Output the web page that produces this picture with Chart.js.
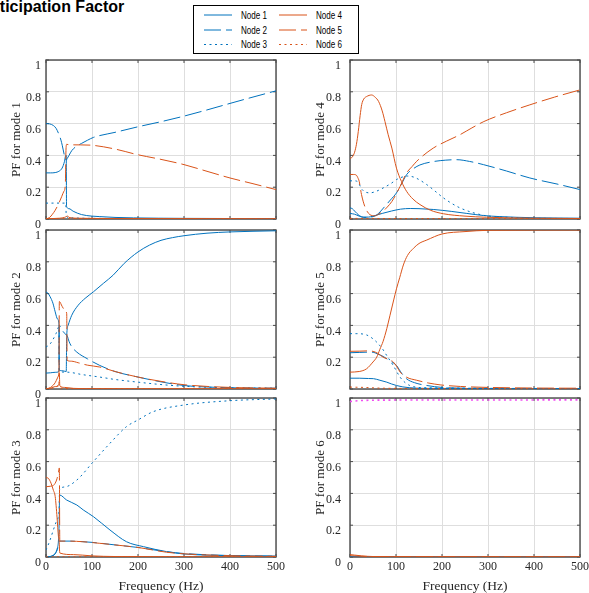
<!DOCTYPE html>
<html>
<head>
<meta charset="utf-8">
<script src="https://cdn.jsdelivr.net/npm/chart.js@4/dist/chart.umd.min.js"></script>
<style>
  html, body { margin: 0; padding: 0; background: #fff; }
  body { width: 589px; height: 593px; position: relative; overflow: hidden; }
  canvas { position: absolute; }
  #title { position: absolute; left: -26px; top: -1px; z-index: 5; white-space: nowrap;
           font: bold 16px "Liberation Sans", Arial, sans-serif; line-height: 16px; color: #000; }
  #legend { position: absolute; left: 193px; top: 5px; z-index: 5; }
  #legend text { font: 10px "Liberation Sans", Arial, sans-serif; fill: #000; }
</style>
</head>
<body>
<div id="title">Participation Factor</div>
<svg id="legend" width="166" height="49"></svg>
<script>
// ---- series names, axis ticks ----
const NODE_NAMES = ['Node 1', 'Node 2', 'Node 3', 'Node 4', 'Node 5', 'Node 6'];
const FREQ_TICKS = [0, 100, 200, 300, 400, 500];
const PF_TICKS = [0, 0.2, 0.4, 0.6, 0.8, 1];
const MODE_LABELS = ['PF for mode 1', 'PF for mode 2', 'PF for mode 3',
                     'PF for mode 4', 'PF for mode 5', 'PF for mode 6'];

// ---- participation factors: [frequency (Hz), PF] ----
// mode 1
const mode1Node1 = [[0,0.29],[10,0.29],[20,0.292],[28,0.30],[35,0.32],[40,0.36],[43,0.40],[44,0.40],[44.6,0.08],[50,0.065],[59,0.049],[77,0.028],[100,0.018],[117,0.015],[150,0.01],[190,0.007],[300,0.004],[400,0.003],[500,0.003]];
const mode1Node2 = [[0,0.60],[8,0.598],[16,0.588],[22,0.57],[27,0.54],[31,0.51],[34,0.48],[37,0.44],[40,0.40],[42,0.38],[44,0.37],[46,0.38],[50,0.40],[56,0.43],[65,0.455],[77,0.475],[90,0.495],[103,0.513],[150,0.545],[200,0.58],[250,0.612],[300,0.647],[350,0.686],[400,0.727],[450,0.767],[500,0.806]];
const mode1Node3 = [[0,0.10],[20,0.10],[41,0.10],[43,0.10],[44,0.02],[50,0.008],[100,0.004],[500,0.002]];
const mode1Node4 = [[0,0.002],[30,0.005],[40,0.01],[44,0.015],[46,0.02],[50,0.01],[70,0.005],[150,0.003],[500,0.002]];
const mode1Node5 = [[0,0.0],[8,0.01],[14,0.03],[20,0.055],[28,0.10],[34,0.14],[39,0.175],[42,0.216],[43.5,0.44],[45,0.47],[50,0.467],[75,0.466],[103,0.463],[150,0.44],[200,0.404],[250,0.375],[300,0.342],[350,0.30],[400,0.258],[450,0.222],[500,0.185]];
const mode1Node6 = [[0,0.001],[100,0.001],[500,0.001]];
// mode 2
const mode2Node1 = [[0,0.61],[5,0.60],[9,0.58],[15,0.54],[20,0.485],[25,0.44],[28,0.41],[29,0.12],[35,0.115],[44,0.11],[45,0.33],[48,0.40],[56,0.464],[70,0.527],[85,0.57],[103,0.611],[125,0.665],[146,0.716],[170,0.79],[200,0.862],[225,0.905],[250,0.935],[275,0.952],[300,0.964],[350,0.98],[400,0.988],[450,0.992],[500,0.995]];
const mode2Node2 = [[0,0.10],[10,0.102],[20,0.105],[28,0.11],[29,0.40],[35,0.37],[44,0.34],[46,0.335],[50,0.30],[55,0.27],[67,0.232],[90,0.19],[117,0.148],[150,0.11],[200,0.075],[250,0.045],[300,0.022],[400,0.008],[500,0.005]];
const mode2Node3 = [[0,0.264],[8,0.28],[15,0.31],[22,0.35],[28,0.39],[29,0.11],[45,0.106],[80,0.09],[117,0.075],[150,0.06],[200,0.043],[250,0.028],[300,0.017],[400,0.008],[500,0.005]];
const mode2Node4 = [[0,0.0],[10,0.01],[16,0.025],[20,0.04],[25,0.07],[28,0.09],[29,0.10],[30,0.02],[40,0.01],[60,0.004],[100,0.002],[500,0.001]];
const mode2Node5 = [[0,0.0],[10,0.005],[20,0.015],[28,0.03],[29,0.55],[35,0.52],[40,0.50],[45,0.474],[46,0.18],[55,0.175],[70,0.165],[90,0.15],[117,0.138],[150,0.11],[200,0.075],[250,0.048],[300,0.027],[400,0.01],[500,0.005]];
const mode2Node6 = [[0,0.0],[20,0.01],[28,0.02],[30,0.005],[100,0.002],[500,0.002]];
// mode 3
const mode3Node1 = [[0,0.0],[10,0.003],[15,0.01],[20,0.023],[25,0.06],[27,0.1],[28.5,0.2],[29.5,0.39],[45,0.358],[67,0.327],[81,0.296],[103,0.254],[139,0.17],[175,0.096],[212,0.065],[262,0.034],[300,0.019],[400,0.009],[500,0.006]];
const mode3Node2 = [[0,0.0],[10,0.004],[20,0.02],[26,0.06],[29,0.1],[30,0.1],[50,0.1],[100,0.092],[150,0.076],[200,0.06],[250,0.038],[300,0.022],[400,0.009],[500,0.005]];
const mode3Node3 = [[0,0.044],[8,0.1],[16,0.17],[22,0.22],[27,0.26],[28.5,0.30],[29.5,0.42],[40,0.44],[67,0.484],[103,0.6],[139,0.715],[175,0.82],[200,0.862],[233,0.914],[300,0.956],[400,0.983],[500,0.994]];
const mode3Node4 = [[0,0.50],[5,0.495],[11,0.464],[16,0.42],[20,0.38],[24,0.25],[27,0.13],[28.5,0.10],[30,0.025],[60,0.015],[100,0.007],[150,0.003],[500,0.001]];
const mode3Node5 = [[0,0.442],[10,0.445],[16,0.45],[23,0.484],[27,0.53],[29,0.56],[30,0.1],[50,0.1],[80,0.096],[117,0.086],[150,0.076],[200,0.06],[262,0.03],[300,0.02],[400,0.008],[500,0.004]];
const mode3Node6 = [[0,0.001],[250,0.001],[500,0.001]];
// mode 4
const mode4Node1 = [[0,0.07],[5,0.065],[10,0.05],[15,0.035],[20,0.022],[30,0.012],[40,0.012],[50,0.018],[70,0.035],[90,0.05],[110,0.062],[131,0.066],[150,0.065],[181,0.06],[220,0.048],[254,0.035],[290,0.022],[326,0.015],[400,0.008],[500,0.005]];
const mode4Node2 = [[0,0.035],[10,0.03],[20,0.018],[30,0.01],[40,0.01],[50,0.015],[58,0.025],[67,0.05],[76,0.08],[88,0.12],[101,0.164],[112,0.22],[123,0.279],[137,0.315],[152,0.34],[175,0.358],[196,0.367],[232,0.373],[260,0.362],[290,0.342],[340,0.302],[391,0.258],[450,0.22],[500,0.185]];
const mode4Node3 = [[0,0.24],[10,0.24],[18,0.23],[25,0.19],[32,0.172],[43,0.164],[55,0.172],[72,0.195],[90,0.225],[101,0.248],[115,0.265],[125,0.27],[140,0.262],[167,0.216],[185,0.175],[203,0.133],[220,0.1],[239,0.07],[265,0.042],[297,0.02],[350,0.01],[400,0.005],[500,0.003]];
const mode4Node4 = [[0,0.38],[5,0.39],[10,0.42],[14,0.47],[18,0.55],[22,0.65],[25.5,0.72],[30,0.755],[36,0.77],[47,0.78],[55,0.765],[62,0.74],[70,0.68],[76,0.613],[83,0.53],[91,0.446],[101,0.32],[112,0.235],[123,0.174],[137,0.125],[152,0.091],[175,0.055],[203,0.033],[250,0.018],[297,0.011],[400,0.005],[500,0.003]];
const mode4Node5 = [[0,0.28],[8,0.28],[14,0.275],[17,0.26],[20,0.237],[25,0.154],[32,0.08],[38,0.045],[43,0.028],[54,0.02],[62,0.03],[72,0.049],[81,0.075],[91,0.11],[100,0.155],[109,0.205],[123,0.29],[135,0.33],[145,0.363],[181,0.446],[210,0.49],[239,0.53],[265,0.573],[291,0.613],[340,0.668],[391,0.718],[445,0.767],[500,0.812]];
const mode4Node6 = [[0,0.004],[100,0.003],[500,0.002]];
// mode 5
const mode5Node1 = [[0,0.068],[20,0.068],[40,0.066],[51,0.065],[65,0.055],[80,0.043],[90,0.032],[101,0.022],[115,0.013],[130,0.008],[160,0.004],[500,0.002]];
const mode5Node2 = [[0,0.228],[20,0.23],[43,0.232],[52,0.23],[60,0.22],[72,0.205],[85,0.18],[101,0.148],[112,0.1],[123,0.064],[140,0.04],[167,0.022],[200,0.01],[250,0.005],[500,0.003]];
const mode5Node3 = [[0,0.348],[15,0.348],[36,0.34],[48,0.32],[58,0.295],[70,0.255],[80,0.21],[94,0.148],[109,0.074],[120,0.04],[130,0.022],[160,0.008],[500,0.003]];
const mode5Node4 = [[0,0.106],[20,0.11],[36,0.127],[50,0.17],[58,0.2],[65,0.25],[72,0.3],[80,0.38],[87,0.464],[95,0.56],[101,0.63],[108,0.7],[116,0.78],[125,0.84],[138,0.885],[150,0.915],[167,0.937],[200,0.975],[250,0.99],[300,0.998],[500,1.0]];
const mode5Node5 = [[0,0.237],[20,0.238],[43,0.24],[52,0.235],[60,0.225],[72,0.2],[85,0.185],[94,0.17],[102,0.14],[109,0.106],[123,0.074],[145,0.055],[170,0.038],[196,0.026],[240,0.016],[300,0.01],[400,0.006],[500,0.005]];
const mode5Node6 = [[0,0.012],[30,0.01],[60,0.006],[100,0.004],[500,0.002]];
// mode 6
const mode6Node1 = [[0,0.003],[250,0.002],[500,0.002]];
const mode6Node2 = [[0,0.002],[250,0.001],[500,0.001]];
const mode6Node3 = [[0,0.002],[250,0.001],[500,0.001]];
const mode6Node4 = [[0,0.015],[10,0.012],[25,0.007],[50,0.003],[100,0.002],[500,0.001]];
const mode6Node5 = [[0,0.008],[30,0.004],[80,0.002],[500,0.001]];
const mode6Node6 = [[0,0.978],[10,0.981],[25,0.984],[50,0.986],[100,0.987],[500,0.988]];

// ---- styles ----
const BLUE = '#0072BD', ORANGE = '#D95319';
const NODE_COLORS = [BLUE, BLUE, BLUE, ORANGE, ORANGE, ORANGE];
const NODE_DASH = [[], [17, 5], [2, 3.5], [], [17, 5], [2, 3.5]];
const SERIF = '"Liberation Serif", "Times New Roman", serif';
const INK = '#262626';
const GRID = '#dedede';
const FRAME = '#4a4a4a';

// column / row geometry of the 3x2 grid of panels
const COLS = [
  { x: 0,   w: 290, axisW: 46, padR: 14, tickPad: 5, titlePad: 8.5 },
  { x: 300, w: 289, axisW: 50, padR: 9,  tickPad: 9, titlePad: 12.8 }
];
const ROWS = [
  { y: 50,  h: 185, axisH: 16, showX: false },
  { y: 220, h: 182, axisH: 13, showX: false },
  { y: 388, h: 205, axisH: 36, showX: true }
];

const PANELS = [
  { col: 0, row: 0, label: MODE_LABELS[0], series: [mode1Node1, mode1Node2, mode1Node3, mode1Node4, mode1Node5, mode1Node6] },
  { col: 0, row: 1, label: MODE_LABELS[1], series: [mode2Node1, mode2Node2, mode2Node3, mode2Node4, mode2Node5, mode2Node6] },
  { col: 0, row: 2, label: MODE_LABELS[2], series: [mode3Node1, mode3Node2, mode3Node3, mode3Node4, mode3Node5, mode3Node6] },
  { col: 1, row: 0, label: MODE_LABELS[3], series: [mode4Node1, mode4Node2, mode4Node3, mode4Node4, mode4Node5, mode4Node6] },
  { col: 1, row: 1, label: MODE_LABELS[4], series: [mode5Node1, mode5Node2, mode5Node3, mode5Node4, mode5Node5, mode5Node6], hideZero: true },
  { col: 1, row: 2, label: MODE_LABELS[5], series: [mode6Node1, mode6Node2, mode6Node3, mode6Node4, mode6Node5, mode6Node6],
    colors: [BLUE, BLUE, BLUE, ORANGE, ORANGE, '#f04cf0'], widths: [1, 1, 1, 1, 1, 1.6] }
];

// axes box with inward tick marks on all four sides
const frameBox = {
  id: 'frameBox',
  beforeDatasetsDraw(chart) {
    const { ctx, chartArea: a, scales } = chart;
    ctx.save();
    ctx.strokeStyle = FRAME;
    ctx.lineWidth = 1.4;
    ctx.strokeRect(a.left, a.top, a.right - a.left, a.bottom - a.top);
    ctx.lineWidth = 1;
    ctx.beginPath();
    scales.x.ticks.forEach(t => {
      const p = scales.x.getPixelForValue(t.value);
      ctx.moveTo(p, a.bottom); ctx.lineTo(p, a.bottom - 3);
      ctx.moveTo(p, a.top);    ctx.lineTo(p, a.top + 3);
    });
    scales.y.ticks.forEach(t => {
      const p = scales.y.getPixelForValue(t.value);
      ctx.moveTo(a.left, p);  ctx.lineTo(a.left + 3, p);
      ctx.moveTo(a.right, p); ctx.lineTo(a.right - 3, p);
    });
    ctx.stroke();
    ctx.restore();
  }
};

function buildPanel(panel) {
  const col = COLS[panel.col], row = ROWS[panel.row];
  const colors = panel.colors || NODE_COLORS;
  const cv = document.createElement('canvas');
  cv.width = col.w; cv.height = row.h;
  cv.style.left = col.x + 'px'; cv.style.top = row.y + 'px';
  document.body.appendChild(cv);

  const datasets = panel.series.map((s, i) => ({
    label: NODE_NAMES[i],
    data: s.map(([f, v]) => ({ x: f, y: v })),
    borderColor: colors[i],
    borderDash: NODE_DASH[i],
    borderWidth: panel.widths ? panel.widths[i] : 1,
    pointRadius: 0,
    pointHoverRadius: 0,
    cubicInterpolationMode: 'monotone',
    fill: false,
    order: 5 - i
  }));

  new Chart(cv, {
    type: 'line',
    data: { datasets },
    options: {
      responsive: false,
      animation: false,
      events: [],
      layout: { padding: { top: 10, left: 0, right: col.padR, bottom: 0 } },
      plugins: { legend: { display: false }, tooltip: { enabled: false } },
      scales: {
        x: {
          type: 'linear', min: 0, max: 500,
          afterBuildTicks: s => { s.ticks = FREQ_TICKS.map(v => ({ value: v })); },
          afterFit: s => { s.height = row.axisH; s.paddingLeft = 0; s.paddingRight = 0; },
          grid: { color: GRID, lineWidth: 1, drawTicks: false },
          border: { display: false },
          ticks: { display: row.showX, padding: 2.5, maxRotation: 0, autoSkip: false,
                   font: { family: SERIF, size: 12 }, color: INK },
          title: { display: row.showX, text: 'Frequency (Hz)', color: INK,
                   font: { family: SERIF, size: 13.5, lineHeight: 1 }, padding: { top: 0, bottom: 0 } }
        },
        y: {
          type: 'linear', min: 0, max: 1,
          afterBuildTicks: s => { s.ticks = PF_TICKS.map(v => ({ value: v })); },
          afterFit: s => { s.width = col.axisW; s.paddingTop = 0; s.paddingBottom = 0; },
          grid: { color: GRID, lineWidth: 1, drawTicks: false },
          border: { display: false },
          ticks: {
            padding: col.tickPad, labelOffset: 6, autoSkip: false,
            font: { family: SERIF, size: 12 }, color: INK,
            callback: v => (panel.hideZero && v === 0) ? '' : String(Math.round(v * 10) / 10)
          },
          title: { display: true, text: panel.label, color: INK,
                   font: { family: SERIF, size: 13 }, padding: { top: col.titlePad, bottom: 0 } }
        }
      }
    },
    plugins: [frameBox]
  });
}

PANELS.forEach(buildPanel);

// legend: two columns of three entries
(function buildLegend() {
  const NS = 'http://www.w3.org/2000/svg';
  const svg = document.getElementById('legend');
  const rect = document.createElementNS(NS, 'rect');
  rect.setAttribute('x', 0.5); rect.setAttribute('y', 0.5);
  rect.setAttribute('width', 165); rect.setAttribute('height', 48);
  rect.setAttribute('fill', '#fff'); rect.setAttribute('stroke', '#000');
  svg.appendChild(rect);
  const rowY = [10, 25, 39.5];
  const lineX = [11, 86];
  NODE_NAMES.forEach((name, i) => {
    const c = Math.floor(i / 3), r = i % 3;
    const ln = document.createElementNS(NS, 'line');
    ln.setAttribute('x1', lineX[c]); ln.setAttribute('x2', lineX[c] + 28);
    ln.setAttribute('y1', rowY[r]); ln.setAttribute('y2', rowY[r]);
    ln.setAttribute('stroke', NODE_COLORS[i]); ln.setAttribute('stroke-width', 1);
    if (NODE_DASH[i].length) ln.setAttribute('stroke-dasharray', NODE_DASH[i].join(' '));
    svg.appendChild(ln);
    const tx = document.createElementNS(NS, 'text');
    tx.setAttribute('x', lineX[c] + 37); tx.setAttribute('y', rowY[r] + 3.5);
    tx.setAttribute('textLength', 26);
    tx.setAttribute('lengthAdjust', 'spacingAndGlyphs');
    tx.textContent = name;
    svg.appendChild(tx);
  });
})();
</script>
</body>
</html>
